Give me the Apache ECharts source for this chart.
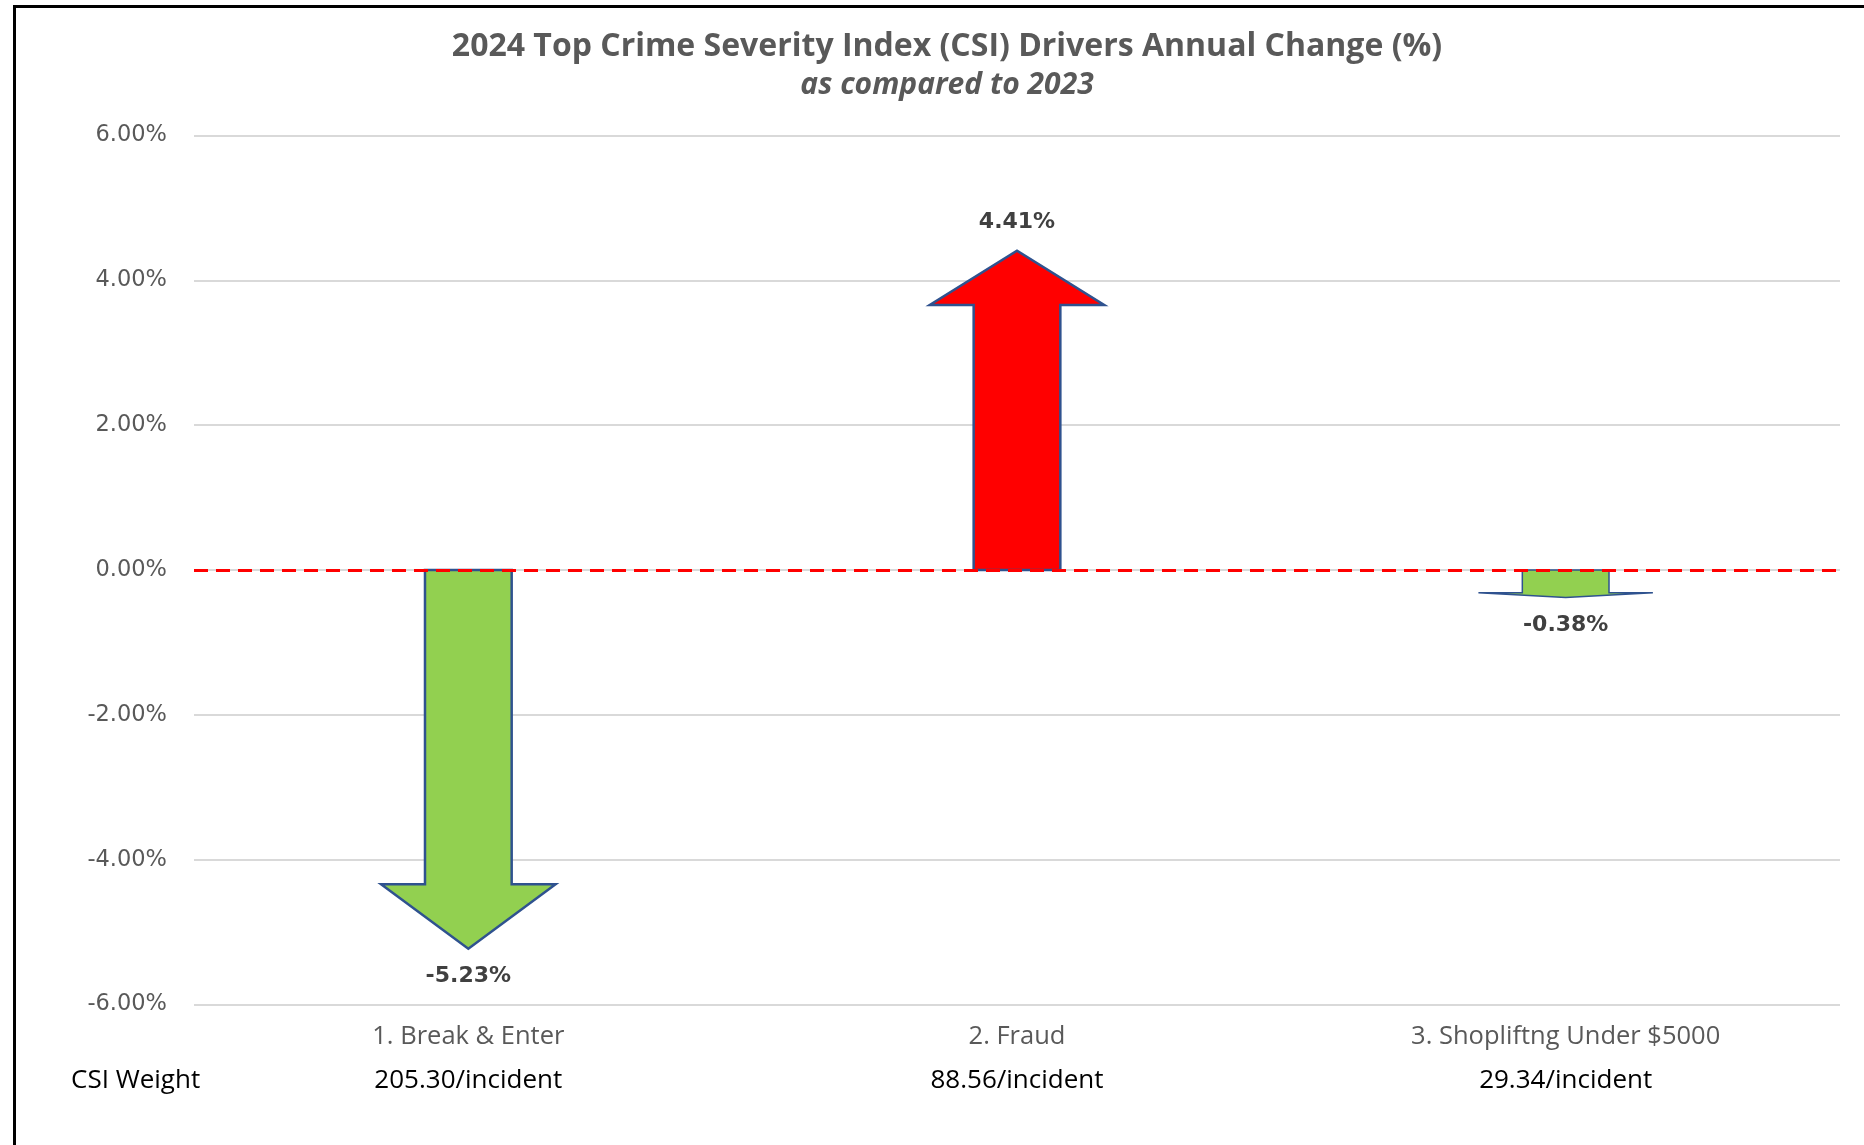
<!DOCTYPE html>
<html>
<head>
<meta charset="utf-8">
<script src="https://cdn.jsdelivr.net/npm/echarts@6/dist/echarts.min.js"></script>
<style>
html,body{margin:0;padding:0;background:#fff;}
#chart{width:1864px;height:1145px;}
</style>
</head>
<body>
<div id="chart"></div>
<script>
const categories = ['1. Break & Enter', '2. Fraud', '3. Shopliftng Under $5000'];
const changes = [-5.23, 4.41, -0.38];
const weights = ['205.30/incident', '88.56/incident', '29.34/incident'];
const arrowColors = ['#92D050', '#FF0000', '#92D050'];
const yTicks = [-6, -4, -2, 0, 2, 4, 6];

const chart = echarts.init(document.getElementById('chart'), null, {renderer: 'canvas'});

const option = {
  backgroundColor: '#ffffff',
  animation: false,
  title: {
    text: '2024 Top Crime Severity Index (CSI) Drivers Annual Change (%)',
    subtext: 'as compared to 2023',
    left: 942,
    top: 26,
    textAlign: 'center',
    itemGap: 7,
    textStyle: {fontFamily: 'Open Sans', fontWeight: 'bold', fontSize: 32, color: '#595959'},
    subtextStyle: {fontFamily: 'Open Sans', fontWeight: 'bold', fontStyle: 'italic', fontSize: 30, color: '#595959'}
  },
  graphic: [
    {type: 'rect', left: 12, top: 4, z: 100, silent: true,
     shape: {x: 0, y: 0, width: 2000, height: 2000},
     style: {fill: 'none', stroke: '#000000', lineWidth: 3}},
    {type: 'text', left: 71, top: 1068, z: 100,
     style: {text: 'CSI Weight', fontFamily: 'Open Sans', fontSize: 26, fill: '#000000'}}
  ],
  grid: {left: 194, right: 24, top: 135.5, bottom: 140.5, containLabel: false},
  xAxis: {
    type: 'category',
    data: categories,
    axisLine: {show: false},
    axisTick: {show: false},
    splitLine: {show: false},
    axisLabel: {
      margin: 10,
      interval: 0,
      formatter: function (val, idx) {
        return '{a|' + val + '}\n{b|' + weights[idx] + '}';
      },
      rich: {
        a: {fontFamily: 'Open Sans', fontSize: 25.5, color: '#595959', lineHeight: 44, align: 'center'},
        b: {fontFamily: 'Open Sans', fontSize: 26, color: '#000000', lineHeight: 44, align: 'center'}
      }
    }
  },
  yAxis: {
    type: 'value',
    min: yTicks[0],
    max: yTicks[yTicks.length - 1],
    interval: 2,
    axisLine: {show: false},
    axisTick: {show: false},
    axisLabel: {
      margin: 27,
      fontFamily: 'DejaVu Sans',
      fontSize: 22.5,
      color: '#595959',
      formatter: function (v) { return v.toFixed(2) + '%'; }
    },
    splitLine: {show: true, lineStyle: {color: '#D9D9D9', width: 2}}
  },
  series: [
    {
      type: 'custom',
      z: 3,
      data: changes.map(function (v, i) { return [i, v]; }),
      renderItem: function (params, api) {
        const i = api.value(0);
        const v = api.value(1);
        const base = api.coord([i, 0]);
        const tip = api.coord([i, v]);
        const band = api.size([1, 0])[0];
        const sw = band * 0.158;
        const hw = band * 0.318;
        const L = tip[1] - base[1];
        const headY = tip[1] - L * 0.17;
        const cx = base[0];
        const pts = [
          [cx - sw / 2, base[1]],
          [cx - sw / 2, headY],
          [cx - hw / 2, headY],
          [cx, tip[1]],
          [cx + hw / 2, headY],
          [cx + sw / 2, headY],
          [cx + sw / 2, base[1]]
        ];
        const dir = L >= 0 ? 1 : -1;
        const small = Math.abs(L) < 40;
        return {
          type: 'group',
          children: [
            {type: 'polygon', shape: {points: pts},
             style: {fill: arrowColors[params.dataIndex], stroke: '#2F528F', lineWidth: small ? 1.5 : 2.5, lineJoin: 'miter'}},
            {type: 'text', x: cx, y: tip[1] + dir * 28,
             style: {text: v.toFixed(2) + '%', fontFamily: 'DejaVu Sans', fontWeight: 'bold', fontSize: 22,
                     fill: '#404040', align: 'center', verticalAlign: 'middle'}}
          ]
        };
      }
    },
    {
      type: 'line',
      z: 10,
      data: [],
      markLine: {
        silent: true,
        symbol: ['none', 'none'],
        label: {show: false},
        lineStyle: {color: '#FF0000', type: [14, 8], width: 3},
        data: [{yAxis: 0}]
      }
    }
  ]
};
chart.setOption(option);
</script>
</body>
</html>
